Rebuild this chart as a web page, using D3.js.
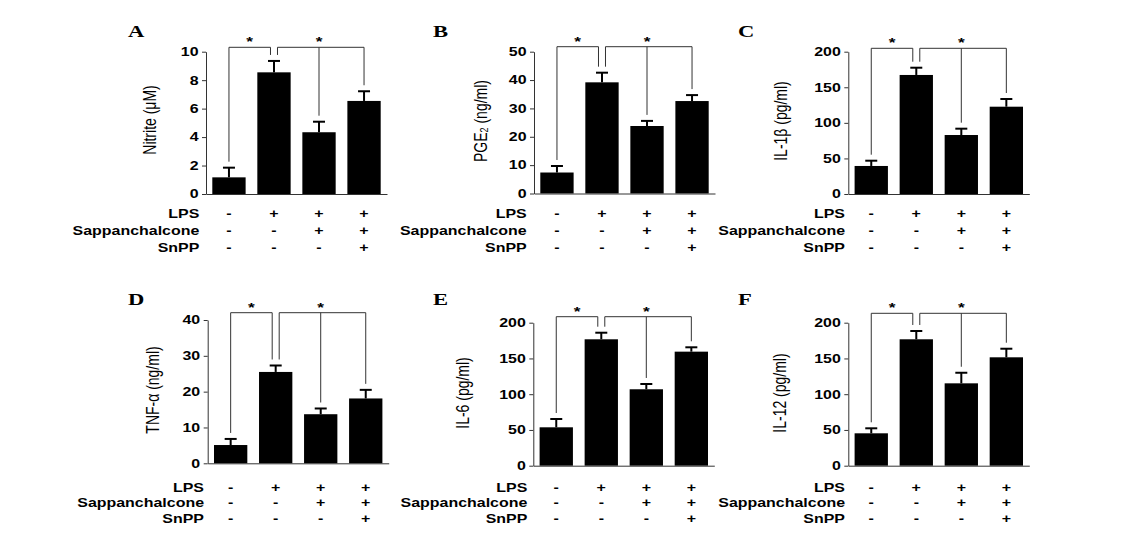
<!DOCTYPE html>
<html><head><meta charset="utf-8">
<script src="https://cdn.jsdelivr.net/npm/d3@7"></script>
<style>body{margin:0;background:#fff}svg{display:block}</style>
</head><body><svg id="c" width="1122" height="560"></svg>
<script>
// ---------- data ----------
const groups = ["Control", "LPS", "LPS+Sappanchalcone", "LPS+Sappanchalcone+SnPP"];
const rowNames = ["LPS", "Sappanchalcone", "SnPP"];
const lpsRow = ["-", "+", "+", "+"];
const sappanRow = ["-", "-", "+", "+"];
const snppRow = ["-", "-", "-", "+"];
const panelLetters = ["A", "B", "C", "D", "E", "F"];
const yTitles = ["Nitrite (μM)", "PGE_2 (ng/ml)", "IL-1β (pg/ml)", "TNF-α (ng/ml)", "IL-6 (pg/ml)", "IL-12 (pg/ml)"];

const nitriteMean = [1.17, 8.55, 4.34, 6.54];
const nitriteErr  = [0.68, 0.80, 0.74, 0.68];
const pge2Mean    = [7.4, 39.2, 23.8, 32.6];
const pge2Err     = [2.3, 3.4, 1.8, 2.1];
const il1bMean    = [39.4, 167.3, 82.9, 122.7];
const il1bErr     = [7.4, 10.2, 8.9, 10.8];
const tnfMean     = [5.1, 25.5, 13.7, 18.1];
const tnfErr      = [1.7, 1.8, 1.6, 2.4];
const il6Mean     = [53.7, 176.8, 106.9, 159.5];
const il6Err      = [11.6, 9.2, 7.4, 6.1];
const il12Mean    = [45.3, 176.8, 115.2, 151.6];
const il12Err     = [7.0, 11.6, 14.8, 12.0];

const nitriteTicks = [0, 2, 4, 6, 8, 10];
const pge2Ticks    = [0, 10, 20, 30, 40, 50];
const il1bTicks    = [0, 50, 100, 150, 200];
const tnfTicks     = [0, 10, 20, 30, 40];
const il6Ticks     = [0, 50, 100, 150, 200];
const il12Ticks    = [0, 50, 100, 150, 200];
const significance = ["*", "*"];

// ---------- layout ----------
const SX = 1.33;
const layout = [
  {ax: 206,   y0: 194,   yTop: 51.7,  tdx: -57, tcy: 120, lr: 199.3, rows: [218.3, 235, 251.7],   lx: 128, ly: 37,  by: 47.3},
  {ax: 534,   y0: 193.5, yTop: 51.7,  tdx: -54, tcy: 121, lr: 526.7, rows: [218.3, 235, 251.7],   lx: 433, ly: 37,  by: 46.7},
  {ax: 848.3, y0: 194,   yTop: 51.7,  tdx: -68, tcy: 121, lr: 845,   rows: [218.3, 235, 251.7],   lx: 738, ly: 37,  by: 48.3},
  {ax: 207.7, y0: 463.3, yTop: 320,   tdx: -55, tcy: 390, lr: 204,   rows: [491.7, 506.7, 522.5], lx: 128, ly: 305, by: 312.7},
  {ax: 533.3, y0: 465.7, yTop: 322.7, tdx: -71, tcy: 393, lr: 527.3, rows: [491.7, 506.7, 522.5], lx: 433, ly: 305, by: 316.7},
  {ax: 848.3, y0: 465.7, yTop: 322.7, tdx: -69, tcy: 393, lr: 845,   rows: [491.7, 506.7, 522.5], lx: 738, ly: 305, by: 313.3}
];

const means = [nitriteMean, pge2Mean, il1bMean, tnfMean, il6Mean, il12Mean];
const errs  = [nitriteErr, pge2Err, il1bErr, tnfErr, il6Err, il12Err];
const ticks = [nitriteTicks, pge2Ticks, il1bTicks, tnfTicks, il6Ticks, il12Ticks];
const rowsSym = [lpsRow, sappanRow, snppRow];

const svg = d3.select("#c");
const SANS = "'Liberation Sans', Arial, sans-serif";

function stext(g, x, y, str, anchor, size, weight, family) {
  return g.append("text")
    .attr("transform", `translate(${x},${y}) scale(${SX},1)`)
    .attr("text-anchor", anchor)
    .attr("font-family", family || SANS)
    .attr("font-size", size)
    .attr("font-weight", weight || "bold")
    .attr("fill", "#000")
    .text(str);
}

layout.forEach((L, i) => {
  const g = svg.append("g");
  const tv = ticks[i];
  const x = d3.scaleBand().domain(groups).range([L.ax, L.ax + 181]).paddingInner(0.26).paddingOuter(0.14);
  const y = d3.scaleLinear().domain([0, tv[tv.length - 1]]).range([L.y0, L.yTop]);
  const cx = d => x(d) + x.bandwidth() / 2;
  const m = means[i], e = errs[i];

  // bars
  g.selectAll("rect.bar").data(groups).join("rect")
    .attr("x", d => x(d)).attr("width", x.bandwidth())
    .attr("y", (d, k) => y(m[k])).attr("height", (d, k) => L.y0 - y(m[k]))
    .attr("fill", "#000");

  // error bars (upper)
  g.selectAll("line.err").data(groups).join("line")
    .attr("x1", cx).attr("x2", cx)
    .attr("y1", (d, k) => y(m[k])).attr("y2", (d, k) => y(m[k] + e[k]))
    .attr("stroke", "#000").attr("stroke-width", 2);
  g.selectAll("line.cap").data(groups).join("line")
    .attr("x1", d => cx(d) - 6).attr("x2", d => cx(d) + 6)
    .attr("y1", (d, k) => y(m[k] + e[k])).attr("y2", (d, k) => y(m[k] + e[k]))
    .attr("stroke", "#000").attr("stroke-width", 2);

  // axes
  const yAx = g.append("g").attr("transform", `translate(${L.ax},0)`)
    .call(d3.axisLeft(y).tickValues(tv).tickSize(4).tickSizeOuter(0));
  yAx.selectAll("path,line").attr("stroke", "#333");
  yAx.selectAll("text")
    .attr("x", -7.5 / SX)
    .attr("transform", `scale(${SX},1)`)
    .attr("font-family", SANS).attr("font-size", 12).attr("font-weight", "bold").attr("fill", "#000");
  const xAx = g.append("g").attr("transform", `translate(0,${L.y0})`)
    .call(d3.axisBottom(x).tickValues([]).tickSizeOuter(0));
  xAx.selectAll("path").attr("stroke", "#333");

  // y title
  const t = g.append("text")
    .attr("transform", `translate(${L.ax + L.tdx},${L.tcy}) scale(1.3,1) rotate(-90)`)
    .attr("text-anchor", "middle").attr("dominant-baseline", "central")
    .attr("font-family", SANS).attr("font-size", 14).attr("fill", "#000");
  const parts = yTitles[i].split("_");
  if (parts.length > 1) {
    t.append("tspan").text(parts[0]);
    t.append("tspan").attr("font-size", 9).attr("dy", 3).text(parts[1].charAt(0));
    t.append("tspan").attr("dy", -3).text(parts[1].slice(1));
  } else {
    t.text(yTitles[i]);
  }

  // panel letter
  stext(g, L.lx, L.ly, panelLetters[i], "start", 17, "bold", "'Liberation Serif', 'Times New Roman', serif");

  // treatment table
  rowNames.forEach((rn, r) => {
    stext(g, L.lr, L.rows[r], rn, "end", 12);
    groups.forEach((gr, k) => stext(g, cx(gr), L.rows[r], rowsSym[r][k], "middle", 12));
  });

  // significance brackets
  const top = k => y(m[k] + e[k]) - 6;
  const c = groups.map(cx);
  const p = d3.path();
  p.moveTo(c[0], top(0)); p.lineTo(c[0], L.by); p.lineTo(c[1] - 3.5, L.by); p.lineTo(c[1] - 3.5, top(1));
  p.moveTo(c[1] + 3.5, top(1)); p.lineTo(c[1] + 3.5, L.by); p.lineTo(c[3], L.by); p.lineTo(c[3], top(3));
  p.moveTo(c[2], L.by); p.lineTo(c[2], top(2));
  g.append("path").attr("d", p.toString()).attr("fill", "none").attr("stroke", "#333").attr("stroke-width", 1);
  stext(g, (c[0] + c[1] - 3.5) / 2, L.by - 1, significance[0], "middle", 13);
  stext(g, c[2], L.by - 1, significance[1], "middle", 13);
});
</script>
</body></html>
